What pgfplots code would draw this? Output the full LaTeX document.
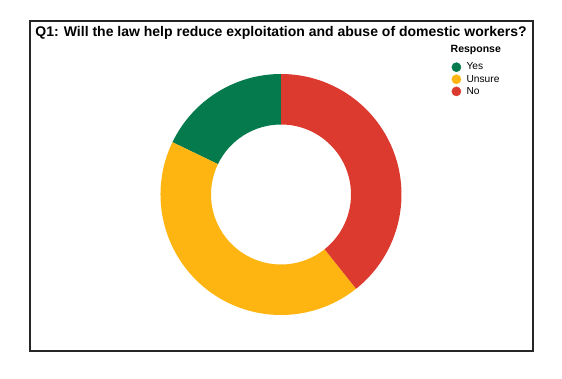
\documentclass[border=0pt]{standalone}
\usepackage{pgfplots}
\usepackage{pgfplotstable}
\pgfplotsset{compat=1.18}
\usepackage{fontspec}
\setmainfont{Liberation Sans}
\definecolor{yesgreen}{HTML}{047A4D}
\definecolor{unsureyellow}{HTML}{FFB511}
\definecolor{nored}{HTML}{DC3A2E}

\pgfplotstableread{
label value
Yes 5
Unsure 12
No 11
}\datatable

\begin{document}%
\begin{tikzpicture}[x=1pt,y=1pt]
\pgfplotstablegetelem{0}{value}\of\datatable \let\vA\pgfplotsretval
\pgfplotstablegetelem{1}{value}\of\datatable \let\vB\pgfplotsretval
\pgfplotstablegetelem{2}{value}\of\datatable \let\vC\pgfplotsretval
\pgfmathsetmacro\tot{\vA+\vB+\vC}
\pgfmathsetmacro\aA{90}
\pgfmathsetmacro\aB{\aA+360*\vA/\tot}
\pgfmathsetmacro\aC{\aB+360*\vB/\tot}
\pgfmathsetmacro\aD{\aC+360*\vC/\tot}
\def\Ro{120.5}
\def\Ri{70}
\useasboundingbox (0,0) rectangle (562,379);
\draw[line width=1.4pt, black!85] (30,28) rectangle (533,358);
\node[font=\bfseries\fontsize{14}{16}\selectfont] at (281,345.8) {Q1: Will the law help reduce exploitation and abuse of domestic workers?};
\node[font=\bfseries\fontsize{10.5}{12}\selectfont, anchor=west, inner sep=0pt] at (450.5,329.5) {Response};
\begin{axis}[
  at={(281,184.5)}, anchor=center,
  x=1pt, y=1pt, scale only axis,
  xmin=-125, xmax=125, ymin=-125, ymax=125,
  hide axis,
  legend image code/.code={\fill[#1] (0pt,0pt) circle (4.6pt);},
  legend style={at={(axis cs:170.4,132.3)}, anchor=north west, draw=none, fill=none,
    inner sep=0pt, font=\fontsize{10.2}{12}\selectfont, row sep=2.5pt,
    nodes={inner sep=0.5pt, anchor=west}, column sep=4.9pt},
]
\fill[yesgreen] (axis cs:{\Ro*cos(\aA)},{\Ro*sin(\aA)}) arc[start angle=\aA, end angle=\aB, radius=\Ro pt]
  -- (axis cs:{\Ri*cos(\aB)},{\Ri*sin(\aB)}) arc[start angle=\aB, end angle=\aA, radius=\Ri pt] -- cycle;
\fill[unsureyellow] (axis cs:{\Ro*cos(\aB)},{\Ro*sin(\aB)}) arc[start angle=\aB, end angle=\aC, radius=\Ro pt]
  -- (axis cs:{\Ri*cos(\aC)},{\Ri*sin(\aC)}) arc[start angle=\aC, end angle=\aB, radius=\Ri pt] -- cycle;
\fill[nored] (axis cs:{\Ro*cos(\aC)},{\Ro*sin(\aC)}) arc[start angle=\aC, end angle=\aD, radius=\Ro pt]
  -- (axis cs:{\Ri*cos(\aD)},{\Ri*sin(\aD)}) arc[start angle=\aD, end angle=\aC, radius=\Ri pt] -- cycle;
\addlegendimage{yesgreen}
\addlegendentry{Yes}
\addlegendimage{unsureyellow}
\addlegendentry{Unsure}
\addlegendimage{nored}
\addlegendentry{No}
\end{axis}
\end{tikzpicture}%
\end{document}
